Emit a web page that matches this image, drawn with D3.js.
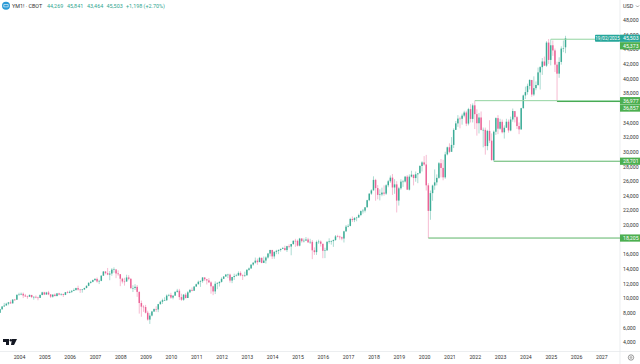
<!DOCTYPE html>
<html>
<head>
<meta charset="utf-8">
<script src="https://cdn.jsdelivr.net/npm/d3@7"></script>
<style>
  html, body { margin: 0; padding: 0; background: #fff; }
  svg { display: block; font-family: Roboto, sans-serif; }
</style>
</head>
<body>
<svg id="chart" width="640" height="364"></svg>
<script>
// Monthly candles, Apr 2003 to Aug 2025
const opens = [
  7990,8480,8850,8985,9233,9415,9275,9801,9782,
  10453,10488,10583,10357,10225,10188,10435,10140,10173,10080,10027,10428,
  10783,10489,10766,10503,10192,10467,10275,10640,10481,10568,10440,10805,
  10717,10864,10993,11109,11367,11168,11150,11185,11381,11679,12080,12221,
  12463,12621,12268,12354,13062,13627,13408,13211,13357,13895,13930,13371,
  13264,12650,12266,12262,12820,12638,11350,11378,11543,10850,9325,8829,
  8776,8000,7062,7608,8168,8500,8447,9171,9496,9712,9712,10344,
  10428,10067,10325,10856,11008,10136,9774,10465,10014,10788,11118,11006,
  11577,11891,12226,12319,12810,12569,12414,12143,11613,10913,11955,12045,
  12217,12632,12952,13212,13213,12393,12880,13008,13090,13437,13096,13025,
  13104,13860,14054,14578,14839,15115,14909,15499,14810,15129,15545,16086,
  16576,15698,16321,16457,16580,16717,16826,16563,17098,17042,17390,17828,
  17823,17164,18132,17776,17840,18010,17619,17690,16528,16284,17663,17719,
  17425,16466,16516,17685,17773,17787,17929,18432,18400,18308,18142,19123,
  19762,19864,20812,20663,20940,21008,21349,21891,21948,22405,23377,24272,
  24719,26149,25029,24103,24163,24415,24271,25415,25964,26458,25116,25538,
  23327,24999,25916,25929,26593,24815,26600,26864,26403,26917,27046,28051,
  28538,28256,25409,21917,24346,25383,25813,26428,28430,27782,26501,29638,
  30606,29983,30932,32982,33875,34529,34503,34935,35361,33844,35820,34484,
  36338,35132,33893,34678,32977,32990,30775,32845,31510,28850,32733,34590,
  33147,34086,32657,33274,34098,32908,34408,35560,34722,33508,33052,35951,
  37690,38150,38996,39807,37816,38686,39119,40843,41563,42330,41763,44911,
  42544,44545,43841,41900,40669,42270,44095,44269
];
const highs = [
  8520,8920,9340,9360,9470,9690,9840,9880,10480,
  10730,10760,10760,10570,10340,10480,10360,10240,10360,10190,10500,10870,
  10860,10860,10980,10560,10530,10640,10700,10720,10640,10590,10840,10990,
  11040,11100,11320,11420,11700,11260,11240,11420,11730,12170,12360,12530,
  12720,12810,12500,13110,13700,13690,14120,13700,14090,14200,13690,13790,
  13280,12770,12770,13190,13140,12700,11750,11900,11790,10900,9660,9030,
  9070,8270,7940,8260,8580,8880,9210,9630,9920,10120,10500,10580,
  10720,10400,10900,11260,11260,10590,10560,10720,10950,11250,11450,11630,
  11980,12390,12440,12880,12870,12620,12740,12300,11710,12280,12190,12290,
  12840,13000,13280,13330,13340,12900,13330,13320,13650,13660,13240,13610,
  13970,14180,14580,14890,15540,15400,15630,15540,15680,15700,16170,16590,
  16590,16380,16590,16640,16780,16990,17160,17150,17350,17400,17890,18100,
  18000,18230,18210,18140,18340,18240,18100,17940,16930,17860,17980,17880,
  17400,16880,17780,18170,17880,18010,18620,18650,18530,18400,19200,19990,
  20100,20970,21150,21070,21110,21530,21980,22180,22420,23430,24330,24870,
  26640,26300,25450,24860,25090,25400,25560,26150,26750,26950,26250,25980,
  25200,26240,26160,26690,26800,26900,27400,26600,27300,27100,28170,28700,
  29400,29570,25700,24700,25500,27580,26900,28600,29000,28900,30000,30700,
  31150,32000,33200,34200,35000,34800,35200,35600,35600,36000,36500,36600,
  36977,35800,35300,35500,33300,33300,33000,34300,32500,32900,34700,35000,
  34500,34400,33600,34500,34400,34800,35900,35400,34900,34000,36000,37800,
  38900,39300,39900,39700,40300,39600,41500,41700,42800,43000,45100,45400,
  45373,45200,44100,42300,42900,44400,45200,45841
];
const lows = [
  7990,8390,8840,8990,9020,9230,9280,9620,9740,
  10370,10400,10000,10170,9900,10190,10000,9780,9980,9700,10020,10380,
  10410,10450,10400,10010,10060,10250,10260,10380,10340,10150,10400,10650,
  10660,10690,10960,11010,11030,10700,10740,11100,11330,11630,11980,12150,
  12340,12110,11920,12300,13030,13250,13130,12440,13050,13460,12720,13050,
  11630,12000,11700,12240,12440,11300,10830,11100,10170,7880,7450,8120,
  7900,6920,6470,7500,8100,8100,8080,9100,9200,9600,9600,10230,
  9900,9830,10360,10750,9750,9620,9630,9940,10010,10680,10930,11000,
  11540,11870,11530,12090,12330,11860,12100,10600,10400,10550,11220,11580,
  12120,12600,12890,12730,12110,12040,12480,12980,13040,12980,12470,12880,
  13100,13740,13990,14410,14700,14550,14930,14760,14780,14720,15400,15700,
  15340,15370,16000,16000,16350,16690,16490,16300,16800,15850,17270,17000,
  17050,17060,17570,17600,17900,17530,17400,15320,15900,15900,17400,17050,
  15450,15460,16500,17450,17300,17000,17840,18300,17990,17900,17600,19050,
  19670,19800,20400,20380,20500,20990,21200,21550,21700,22400,23240,24100,
  24700,23300,23500,23350,23920,23990,24100,25150,25750,24100,24250,21700,
  22640,24800,25200,25800,24800,24700,26500,25400,25900,25700,27100,27300,
  28100,24700,18205,20700,23300,24800,25400,26300,26500,26100,26300,29500,
  29800,30500,30500,33000,33400,33200,33700,34700,33500,33600,34000,34000,
  33100,32200,32500,32900,30600,29600,30200,31200,28800,28701,32300,32400,
  33000,32500,31800,33300,32600,32800,34100,34000,33100,32400,33000,35900,
  37200,37800,38500,37500,37600,38400,39000,38500,40500,41700,41600,42000,
  41800,43100,40900,36857,40100,41900,43600,43464
];
const closes = [
  8480,8850,8985,9233,9415,9275,9801,9782,10453,
  10488,10583,10357,10225,10188,10435,10140,10173,10080,10027,10428,10783,
  10489,10766,10503,10192,10467,10275,10640,10481,10568,10440,10805,10717,
  10864,10993,11109,11367,11168,11150,11185,11381,11679,12080,12221,12463,
  12621,12268,12354,13062,13627,13408,13211,13357,13895,13930,13371,13264,
  12650,12266,12262,12820,12638,11350,11378,11543,10850,9325,8829,8776,
  8000,7062,7608,8168,8500,8447,9171,9496,9712,9712,10344,10428,
  10067,10325,10856,11008,10136,9774,10465,10014,10788,11118,11006,11577,
  11891,12226,12319,12810,12569,12414,12143,11613,10913,11955,12045,12217,
  12632,12952,13212,13213,12393,12880,13008,13090,13437,13096,13025,13104,
  13860,14054,14578,14839,15115,14909,15499,14810,15129,15545,16086,16576,
  15698,16321,16457,16580,16717,16826,16563,17098,17042,17390,17828,17823,
  17164,18132,17776,17840,18010,17619,17690,16528,16284,17663,17719,17425,
  16466,16516,17685,17773,17787,17929,18432,18400,18308,18142,19123,19762,
  19864,20812,20663,20940,21008,21349,21891,21948,22405,23377,24272,24719,
  26149,25029,24103,24163,24415,24271,25415,25964,26458,25116,25538,23327,
  24999,25916,25929,26593,24815,26600,26864,26403,26917,27046,28051,28538,
  28256,25409,21917,24346,25383,25813,26428,28430,27782,26501,29638,30606,
  29983,30932,32982,33875,34529,34503,34935,35361,33844,35820,34484,36338,
  35132,33893,34678,32977,32990,30775,32845,31510,28850,32733,34590,33147,
  34086,32657,33274,34098,32908,34408,35560,34722,33508,33052,35951,37690,
  38150,38996,39807,37816,38686,39119,40843,41563,42330,41763,44911,42544,
  44545,43841,41900,40669,42270,44095,44131,45503
];

// Year ticks, as index into the monthly series
const yearLabels = d3.range(2004, 2028);
const yearIndexes = yearLabels.map(y => 9 + (y - 2004) * 12);

// 18,000 and 36,000 are hidden behind the price labels in the reference
const priceTicks = [4000, 6000, 8000, 10000, 12000, 14000, 16000, 20000, 22000, 24000, 26000,
  28000, 30000, 32000, 34000, 38000, 40000, 42000, 44000, 46000, 48000];

// Horizontal levels: price, index of the candle they start on, label
const levelPrices = [45373, 36977, 36857, 28701, 18205];
const levelStarts = [261, 225, 264, 234, 203];
const levelColors = ['#92d4a0', '#92d4a0', '#43a84f', '#5cb568', '#5cb568'];

const upColor = '#2fa68f';
const downColor = '#e9588f';

const svg = d3.select('#chart');

const x = d3.scaleLinear().domain([0, 268]).range([0, 565.5]);
const y = d3.scaleLinear().domain([4000, 48000]).range([342, 20]);

// Axes
const xAxis = d3.axisBottom(x)
  .tickValues(yearIndexes)
  .tickSize(0)
  .tickPadding(0)
  .tickFormat((d, i) => yearLabels[i]);
const xG = svg.append('g').attr('transform', 'translate(0,355)').call(xAxis);
xG.select('.domain').remove();
xG.selectAll('text').attr('font-size', 5.2).attr('fill', '#333').attr('font-family', 'Roboto');

const yAxis = d3.axisRight(y)
  .tickValues(priceTicks)
  .tickSize(0)
  .tickPadding(0)
  .tickFormat(d3.format(','));
const yG = svg.append('g').attr('transform', 'translate(623,0)').call(yAxis);
yG.select('.domain').remove();
yG.selectAll('text').attr('font-size', 5.2).attr('fill', '#333').attr('font-family', 'Roboto');

// Pane separators
svg.append('line').attr('x1', 620).attr('x2', 620).attr('y1', 0).attr('y2', 364).attr('stroke', '#e4e6ea').attr('stroke-width', 0.7);
svg.append('line').attr('x1', 0).attr('x2', 640).attr('y1', 351.5).attr('y2', 351.5).attr('stroke', '#e4e6ea').attr('stroke-width', 0.7);

// Candles
const candles = svg.append('g').selectAll('g')
  .data(closes.map((c, i) => i))
  .join('g');

candles.append('line')
  .attr('x1', i => x(i))
  .attr('x2', i => x(i))
  .attr('y1', i => y(highs[i]))
  .attr('y2', i => y(lows[i]))
  .attr('stroke', i => closes[i] >= opens[i] ? upColor : downColor)
  .attr('stroke-opacity', 0.5)
  .attr('stroke-width', 0.8);

candles.append('rect')
  .attr('x', i => x(i) - 0.75)
  .attr('width', 1.5)
  .attr('y', i => y(Math.max(opens[i], closes[i])))
  .attr('height', i => Math.max(0.6, Math.abs(y(opens[i]) - y(closes[i]))))
  .attr('fill', i => closes[i] >= opens[i] ? upColor : downColor)
  .attr('fill-opacity', 0.9);

// Level lines
svg.append('g').selectAll('line')
  .data(levelPrices)
  .join('line')
  .attr('x1', (d, i) => x(levelStarts[i]))
  .attr('x2', 620)
  .attr('y1', d => y(d))
  .attr('y2', d => y(d))
  .attr('stroke', (d, i) => levelColors[i])
  .attr('stroke-width', 1);

// Price labels on the axis, the second of a close pair is pushed down
const boxPrices = [45503, 45373, 36977, 36857, 28701, 18205];
const boxColors = ['#26a69a', '#4caf50', '#4caf50', '#4caf50', '#4caf50', '#4caf50'];
const boxAnchors = [45503, 45503, 36977, 36977, 28701, 18205];
const boxOffsets = [0, 7.5, 0, 7.4, 0, 0];

const boxes = svg.append('g').selectAll('g')
  .data(boxPrices)
  .join('g')
  .attr('transform', (d, i) => `translate(620,${y(boxAnchors[i]) + boxOffsets[i]})`);
boxes.append('rect')
  .attr('x', 0).attr('y', -3.6).attr('width', 20).attr('height', 7.2)
  .attr('fill', (d, i) => boxColors[i]);
boxes.append('text')
  .attr('x', 3).attr('y', 1.9)
  .attr('font-size', 5.2).attr('fill', '#fff')
  .text(d => d3.format(',')(d));

// Tag next to the last price
svg.append('rect').attr('x', 595).attr('y', y(45503) - 3.6).attr('width', 25).attr('height', 7.2).attr('rx', 0.8).attr('fill', '#26a69a');
svg.append('text').attr('x', 607.5).attr('y', y(45503) + 1.8).attr('text-anchor', 'middle')
  .attr('font-size', 4.6).attr('fill', '#fff').text('19/02/2025');

// Top legend
svg.append('circle').attr('cx', 6).attr('cy', 5.7).attr('r', 4).attr('fill', '#2a9ad6');
svg.append('path').attr('d', 'M3.8 4.5h4.4v2.4h-4.4z').attr('fill', 'none').attr('stroke', '#fff').attr('stroke-width', 0.6);
svg.append('text').attr('x', 12).attr('y', 7.8).attr('font-size', 5.4).attr('fill', '#333').text('YM1! · CBOT');
const legendVals = ['44,269', '45,841', '43,464', '45,503', '+1,198 (+2.70%)'];
const legendX = [47, 67, 87, 106.5, 126];
svg.append('g').selectAll('text')
  .data(legendVals)
  .join('text')
  .attr('x', (d, i) => legendX[i])
  .attr('y', 7.8)
  .attr('font-size', 5.4)
  .attr('fill', '#2fa68f')
  .text(d => d);

// USD and settings icon
svg.append('text').attr('x', 623).attr('y', 8).attr('font-size', 5.4).attr('fill', '#333').text('USD');
svg.append('path').attr('d', 'M636 5.5l1.5 1.5l1.5-1.5').attr('fill', 'none').attr('stroke', '#444').attr('stroke-width', 0.5);
svg.append('circle').attr('cx', 631).attr('cy', 357.5).attr('r', 2.7).attr('fill', 'none').attr('stroke', '#555').attr('stroke-width', 0.6);
svg.append('circle').attr('cx', 631).attr('cy', 357.5).attr('r', 0.9).attr('fill', 'none').attr('stroke', '#555').attr('stroke-width', 0.5);

// TV logo
svg.append('path')
  .attr('d', 'M3 339h6v6h-3v-3h-3z M12 339h5l-3 6h-3z')
  .attr('fill', '#131722');
svg.append('circle').attr('cx', 10.8).attr('cy', 340.3).attr('r', 1.2).attr('fill', '#131722');
</script>
</body>
</html>
